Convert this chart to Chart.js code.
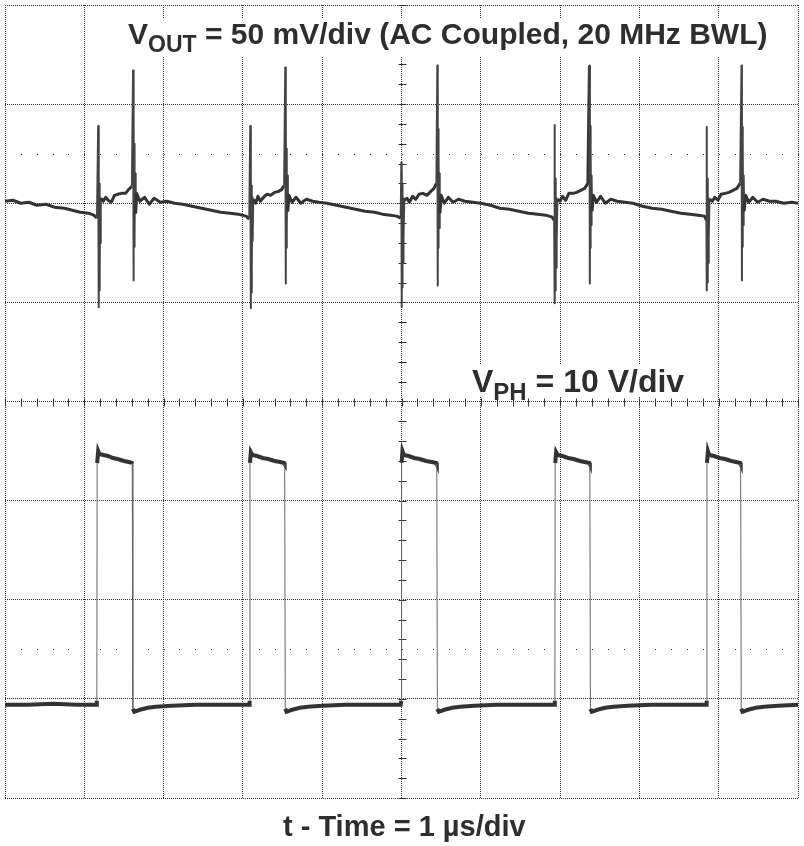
<!DOCTYPE html>
<html>
<head>
<meta charset="utf-8">
<script src="https://cdn.jsdelivr.net/npm/chart.js@4.4.1/dist/chart.umd.min.js"></script>
<style>
  html, body { margin: 0; padding: 0; background: #fff; }
  #wrap { position: relative; width: 804px; height: 846px; }
  #scope { position: absolute; left: 0; top: 0; }
  .lbl {
    position: absolute; white-space: nowrap; line-height: 1;
    font-family: "Liberation Sans", Arial, sans-serif; font-weight: bold;
    color: #2e2e2e; background: #fff;
  }
  .lbl .sub { position: relative; }
</style>
</head>
<body>
<div id="wrap">
  <canvas id="scope" width="804" height="846"></canvas>
  <div class="lbl" id="vout" style="left:128px; top:19px; font-size:30px; padding-bottom:8px;">V<span class="sub" style="font-size:23px; top:8px;">OUT</span> = 50 mV/div (AC Coupled, 20 MHz BWL)</div>
  <div class="lbl" id="vph" style="left:472px; top:365px; font-size:32px;">V<span class="sub" style="font-size:24px; top:8px;">PH</span> = 10 V/div</div>
  <div class="lbl" id="xlab" style="left:283px; top:812px; font-size:29px;">t - Time = 1 µs/div</div>
</div>
<script>
// time in µs (1 µs/div), level in divisions from screen centre
const vout = [
  [0.00, 2.02], [0.10, 2.03], [0.20, 2.00], [0.30, 2.01], [0.40, 1.98], [0.52, 1.99], [0.62, 1.96],
  [0.75, 1.95], [0.85, 1.93], [0.95, 1.91], [1.05, 1.90], [1.12, 1.88], [1.16, 1.85],
  [1.175, 2.78], [1.180, 0.95], [1.184, 2.25], [1.188, 1.12], [1.192, 2.20], [1.196, 1.30], [1.200, 2.05], [1.205, 1.60], [1.21, 2.05],
  [1.24, 2.02], [1.27, 2.06], [1.30, 2.03], [1.34, 2.01], [1.38, 2.08], [1.42, 2.09], [1.47, 2.10], [1.52, 2.10], [1.56, 2.14], [1.60, 2.17],
  [1.615, 3.34], [1.620, 1.22], [1.624, 2.77], [1.628, 1.56], [1.632, 2.60], [1.636, 1.75], [1.642, 2.30], [1.648, 1.90], [1.66, 2.10],
  [1.70, 2.02], [1.76, 2.06], [1.82, 1.99], [1.88, 2.05], [1.96, 2.01], [2.04, 2.02], [2.14, 2.00], [2.24, 1.99], [2.36, 1.97],
  [2.48, 1.95], [2.60, 1.93], [2.72, 1.91], [2.84, 1.90], [2.94, 1.89], [3.04, 1.87], [3.08, 1.84],
  [3.093, 2.78], [3.098, 0.94], [3.102, 2.25], [3.106, 1.10], [3.110, 2.18], [3.114, 1.35], [3.118, 2.06], [3.123, 1.62], [3.13, 2.04],
  [3.16, 2.00], [3.19, 2.07], [3.22, 2.02], [3.26, 2.06], [3.30, 2.09], [3.35, 2.08], [3.40, 2.11], [3.45, 2.12], [3.49, 2.14], [3.52, 2.18],
  [3.534, 3.37], [3.539, 1.19], [3.543, 2.80], [3.547, 1.55], [3.551, 2.55], [3.555, 1.78], [3.561, 2.28], [3.567, 1.92], [3.58, 2.08],
  [3.62, 2.01], [3.67, 2.06], [3.73, 2.00], [3.80, 2.04], [3.88, 2.02], [3.96, 2.01], [4.06, 2.00], [4.18, 1.98], [4.30, 1.96],
  [4.42, 1.94], [4.54, 1.92], [4.66, 1.91], [4.76, 1.89], [4.86, 1.88], [4.94, 1.87], [4.99, 1.85],
  [4.998, 2.41], [5.003, 0.95], [5.007, 2.20], [5.011, 1.15], [5.015, 2.10], [5.019, 1.40], [5.023, 2.05], [5.028, 1.65], [5.035, 2.03],
  [5.07, 2.05], [5.10, 2.01], [5.14, 2.07], [5.18, 2.04], [5.22, 2.09], [5.27, 2.10], [5.32, 2.08], [5.37, 2.12], [5.41, 2.15], [5.44, 2.20],
  [5.452, 3.39], [5.457, 1.17], [5.461, 2.75], [5.465, 1.55], [5.469, 2.55], [5.473, 1.75], [5.479, 2.30], [5.485, 1.90], [5.50, 2.08],
  [5.54, 2.00], [5.59, 2.06], [5.65, 2.01], [5.72, 2.04], [5.80, 2.02], [5.90, 2.01], [6.00, 2.00], [6.12, 1.98], [6.24, 1.95],
  [6.36, 1.94], [6.48, 1.92], [6.60, 1.90], [6.72, 1.89], [6.82, 1.88], [6.90, 1.86], [6.925, 1.83],
  [6.929, 2.79], [6.934, 0.99], [6.938, 2.25], [6.942, 1.12], [6.946, 2.18], [6.950, 1.35], [6.954, 2.05], [6.959, 1.62], [6.966, 2.04],
  [7.00, 2.02], [7.03, 2.07], [7.07, 2.03], [7.11, 2.10], [7.16, 2.10], [7.21, 2.11], [7.26, 2.13], [7.31, 2.15], [7.35, 2.20],
  [7.370, 3.39], [7.375, 1.19], [7.379, 2.78], [7.383, 1.55], [7.387, 2.55], [7.391, 1.78], [7.397, 2.28], [7.403, 1.92], [7.42, 2.08],
  [7.46, 2.01], [7.51, 2.07], [7.57, 2.00], [7.64, 2.04], [7.72, 2.02], [7.82, 2.01], [7.92, 2.00], [8.04, 1.97], [8.16, 1.95],
  [8.28, 1.94], [8.40, 1.92], [8.52, 1.90], [8.64, 1.89], [8.74, 1.88], [8.82, 1.87], [8.845, 1.83],
  [8.847, 2.77], [8.852, 1.12], [8.856, 2.25], [8.860, 1.20], [8.864, 2.15], [8.868, 1.40], [8.872, 2.05], [8.877, 1.65], [8.884, 2.04],
  [8.92, 2.02], [8.95, 2.06], [8.99, 2.03], [9.03, 2.09], [9.08, 2.10], [9.13, 2.11], [9.18, 2.13], [9.23, 2.15], [9.27, 2.20],
  [9.288, 3.39], [9.293, 1.22], [9.297, 2.77], [9.301, 1.56], [9.305, 2.55], [9.309, 1.78], [9.315, 2.28], [9.321, 1.92], [9.34, 2.08],
  [9.38, 2.01], [9.43, 2.06], [9.49, 2.01], [9.56, 2.04], [9.64, 2.02], [9.72, 2.02], [9.82, 2.00], [9.92, 2.01], [10.0, 2.00]
];

const vph = [
  [0.00, -3.06], [0.30, -3.06], [0.60, -3.05], [0.90, -3.06], [1.15, -3.06],
  [1.158, -3.02], [1.162, -0.62], [1.175, -0.50], [1.19, -0.53], [1.24, -0.54], [1.30, -0.55], [1.36, -0.57], [1.42, -0.58], [1.50, -0.60], [1.56, -0.61], [1.60, -0.62],
  [1.605, -0.63], [1.612, -3.10], [1.63, -3.13], [1.70, -3.11], [1.80, -3.09], [1.90, -3.08], [2.10, -3.07], [2.40, -3.06], [2.70, -3.06], [3.00, -3.06], [3.08, -3.06],
  [3.085, -3.02], [3.089, -0.62], [3.10, -0.51], [3.12, -0.54], [3.18, -0.55], [3.25, -0.57], [3.32, -0.58], [3.40, -0.60], [3.47, -0.61], [3.52, -0.62],
  [3.527, -0.63], [3.534, -3.10], [3.55, -3.13], [3.62, -3.11], [3.72, -3.09], [3.82, -3.08], [4.00, -3.07], [4.30, -3.06], [4.60, -3.06], [4.90, -3.06], [4.99, -3.06],
  [4.997, -3.02], [5.001, -0.62], [5.012, -0.50], [5.03, -0.54], [5.09, -0.55], [5.16, -0.57], [5.23, -0.58], [5.31, -0.60], [5.38, -0.61], [5.44, -0.62],
  [5.445, -0.63], [5.452, -3.10], [5.47, -3.13], [5.54, -3.11], [5.64, -3.09], [5.74, -3.08], [5.92, -3.07], [6.20, -3.06], [6.50, -3.06], [6.80, -3.06], [6.928, -3.06],
  [6.934, -3.02], [6.938, -0.62], [6.95, -0.51], [6.97, -0.54], [7.03, -0.55], [7.10, -0.57], [7.17, -0.58], [7.25, -0.60], [7.31, -0.61], [7.37, -0.62],
  [7.375, -0.63], [7.382, -3.10], [7.40, -3.13], [7.47, -3.11], [7.57, -3.09], [7.67, -3.08], [7.85, -3.07], [8.15, -3.06], [8.45, -3.06], [8.75, -3.06], [8.842, -3.06],
  [8.848, -3.02], [8.852, -0.62], [8.864, -0.50], [8.88, -0.54], [8.94, -0.55], [9.01, -0.57], [9.08, -0.58], [9.16, -0.60], [9.22, -0.61], [9.272, -0.62],
  [9.277, -0.63], [9.284, -3.10], [9.30, -3.13], [9.37, -3.11], [9.47, -3.09], [9.57, -3.08], [9.75, -3.07], [10.0, -3.06]
];

const timeDivs = [0, 10];
const levelDivs = [-4, 4];

const toXY = pts => pts.map(p => ({ x: p[0], y: p[1] }));

// steep edges are thin and grey, flat parts thick
function steep(c) {
  return Math.abs(c.p1.parsed.y - c.p0.parsed.y) > 0.3 && Math.abs(c.p1.parsed.x - c.p0.parsed.x) < 0.02;
}

const scopeMarks = {
  id: 'scopeMarks',
  beforeDatasetsDraw(chart) {
    const { ctx, scales: { x, y } } = chart;
    ctx.save();
    ctx.strokeStyle = '#333';
    ctx.lineWidth = 1;
    const cx = Math.round(x.getPixelForValue(5)) + 0.5;
    const cy = Math.round(y.getPixelForValue(0)) + 0.5;
    ctx.beginPath();
    for (let t = 0; t <= 10.001; t += 0.2) {
      const px = Math.round(x.getPixelForValue(t)) + 0.5;
      ctx.moveTo(px, cy - 4); ctx.lineTo(px, cy + 4);
    }
    for (let v = -4; v <= 4.001; v += 0.2) {
      const py = Math.round(y.getPixelForValue(v)) + 0.5;
      ctx.moveTo(cx - 4, py); ctx.lineTo(cx + 4, py);
    }
    ctx.stroke();
    // dotted marker rows
    ctx.fillStyle = '#333';
    [2.5, -2.5].forEach(v => {
      const py = Math.round(y.getPixelForValue(v));
      for (let t = 0.2; t < 10; t += 0.2) {
        ctx.fillRect(Math.round(x.getPixelForValue(t)), py, 1, 1);
      }
    });
    ctx.restore();
  }
};

new Chart(document.getElementById('scope'), {
  type: 'scatter',
  data: {
    datasets: [
      {
        label: 'VOUT',
        data: toXY(vout),
        showLine: true,
        pointRadius: 0,
        borderColor: '#333',
        borderWidth: 3,
        borderJoinStyle: 'round',
        segment: {
          borderWidth: c => steep(c) ? 2 : 3,
          borderColor: c => steep(c) ? '#444' : '#333'
        }
      },
      {
        label: 'VPH',
        data: toXY(vph),
        showLine: true,
        pointRadius: 0,
        borderColor: '#333',
        borderWidth: 4,
        segment: {
          borderWidth: c => steep(c) ? 1 : 4,
          borderColor: c => steep(c) ? '#666' : '#333'
        }
      }
    ]
  },
  options: {
    responsive: false,
    animation: false,
    devicePixelRatio: 1,
    layout: { padding: { left: 5, right: 6, top: 5, bottom: 48 } },
    plugins: { legend: { display: false }, tooltip: { enabled: false } },
    scales: {
      x: {
        type: 'linear', min: timeDivs[0], max: timeDivs[1],
        ticks: { display: false, stepSize: 1 },
        grid: { color: '#333', lineWidth: 1, drawTicks: false },
        border: { display: false, dash: [1, 1] }
      },
      y: {
        type: 'linear', min: levelDivs[0], max: levelDivs[1],
        ticks: { display: false, stepSize: 1 },
        grid: { color: '#333', lineWidth: 1, drawTicks: false },
        border: { display: false, dash: [1, 1] }
      }
    }
  },
  plugins: [scopeMarks]
});
</script>
</body>
</html>
